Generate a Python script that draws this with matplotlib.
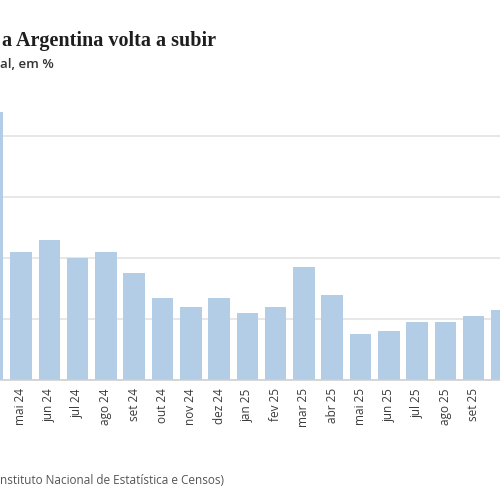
import matplotlib
matplotlib.use("Agg")
import matplotlib.pyplot as plt

# Inflação mensal na Argentina, em %
months = ["abr 24", "mai 24", "jun 24", "jul 24", "ago 24", "set 24", "out 24",
          "nov 24", "dez 24", "jan 25", "fev 25", "mar 25", "abr 25", "mai 25",
          "jun 25", "jul 25", "ago 25", "set 25", "out 25"]
values = [8.8, 4.2, 4.6, 4.0, 4.2, 3.5, 2.7, 2.4, 2.7, 2.2, 2.4, 3.7, 2.8,
          1.5, 1.6, 1.9, 1.9, 2.1, 2.3]
yticks = [0, 2, 4, 6, 8]

bar_color = "#b3cde6"
grid_color = "#e3e3e3"

fig = plt.figure(figsize=(5, 5), dpi=100)
ax = fig.add_axes([0.0, 0.24, 1.0, 0.555])

x = list(range(len(months)))
ax.bar(x, values, width=0.76, color=bar_color, zorder=2)

ax.set_xlim(0.258, 17.93)
ax.set_ylim(0, 9.1)
ax.set_yticks(yticks)
ax.yaxis.grid(True, color=grid_color, linewidth=1.2, zorder=0)
ax.tick_params(axis="y", left=False, labelleft=False)
# only the months whose label fits inside the cropped frame
ax.set_xticks(x[1:-1])
ax.set_xticklabels(months[1:-1], rotation=90, fontsize=8.5, color="#3a3a3a",
                   family=["Open Sans", "DejaVu Sans"])
ax.tick_params(axis="x", length=0, pad=6)

for side in ["top", "right", "left"]:
    ax.spines[side].set_visible(False)
ax.spines["bottom"].set_color("#cfcfcf")
ax.spines["bottom"].set_linewidth(1.2)

fig.text(0.004, 0.908, "a Argentina volta a subir", fontsize=14.5,
         fontweight="bold", color="#1e1e1e", family="Liberation Serif",
         ha="left", va="baseline")
fig.text(0.0, 0.864, "al, em %", fontsize=9.5, fontweight="semibold",
         color="#333333", family=["Open Sans", "DejaVu Sans"],
         ha="left", va="baseline")
fig.text(0.0, 0.032, "nstituto Nacional de Estatística e Censos)", fontsize=8.5,
         color="#555555", family=["Open Sans", "DejaVu Sans"],
         ha="left", va="baseline")

fig.savefig("out.png", dpi=100, facecolor="white")
